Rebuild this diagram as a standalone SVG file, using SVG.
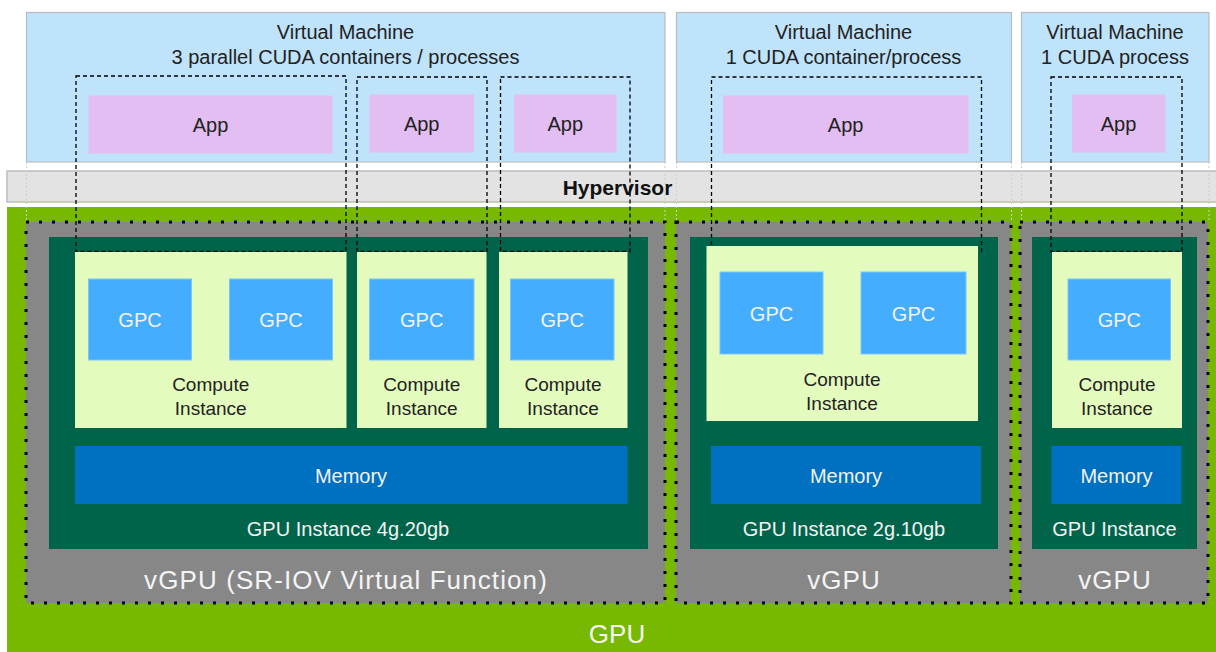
<svg xmlns="http://www.w3.org/2000/svg" width="1216" height="652" viewBox="0 0 1216 652">
<style>
text{font-family:"Liberation Sans",Arial,sans-serif;text-anchor:middle}
.vm{fill:#bfe3fb;stroke:#b9bcbf;stroke-width:1.2}
.app{fill:#e3bef2}
.hyp{fill:#e3e3e3;stroke:#bdbdbd;stroke-width:1.5}
.gpu{fill:#76b900}
.vgpu{fill:#878787;stroke:#000;stroke-width:3;stroke-dasharray:3 10}
.gi{fill:#00644b}
.ci{fill:#e4fbbe}
.gpc{fill:#45adfe;stroke:#7cc4ff;stroke-width:1}
.mem{fill:#0070c0}
.dash{fill:none;stroke:#000;stroke-width:1.3;stroke-dasharray:4 3}
.guide{stroke:#cfcfcf;stroke-width:1;stroke-dasharray:2 2}
.t20{font-size:20px;fill:#222}
.tw{font-size:20px;fill:#f2f2f2}
.tci{font-size:19px;fill:#222}
.tv{font-size:26px;fill:#f4f4f4;letter-spacing:1.1px}
</style>
<rect width="1216" height="652" fill="#fff"/>
<g id="gpu">
<rect class="gpu" x="7" y="207" width="1209" height="445"/>
<text x="617" y="643" style="font-size:26px;fill:#f4f4f4">GPU</text>
</g>
<g id="hypervisor">
<rect class="hyp" x="7" y="171" width="1210" height="31"/>
<text x="617.5" y="195" style="font-size:21px;font-weight:bold;fill:#111">Hypervisor</text>
</g>
<g id="guides">
<line class="guide" x1="26.5" y1="162" x2="26.5" y2="222"/>
<line class="guide" x1="665" y1="162" x2="665" y2="222"/>
<line class="guide" x1="676.5" y1="162" x2="676.5" y2="222"/>
<line class="guide" x1="1011.5" y1="162" x2="1011.5" y2="222"/>
<line class="guide" x1="1021.5" y1="162" x2="1021.5" y2="222"/>
<line class="guide" x1="1209" y1="162" x2="1209" y2="222"/>
</g>
<g id="vm1">
<rect class="vm" x="26.5" y="12.5" width="638.5" height="149.5"/>
<text class="t20" x="345.5" y="39">Virtual Machine</text>
<text class="t20" x="345.5" y="64">3 parallel CUDA containers / processes</text>
<g id="app1"><rect class="app" x="88.5" y="95.5" width="244" height="58"/><text class="t20" x="210.5" y="132">App</text></g>
<g id="app2"><rect class="app" x="369.5" y="94.5" width="104.5" height="58"/><text class="t20" x="421.7" y="131">App</text></g>
<g id="app3"><rect class="app" x="514" y="94.5" width="102.5" height="58"/><text class="t20" x="565.3" y="131">App</text></g>
</g>
<g id="vm2">
<rect class="vm" x="676.5" y="12.5" width="335" height="149.5"/>
<text class="t20" x="843.5" y="39">Virtual Machine</text>
<text class="t20" x="843.5" y="64">1 CUDA container/process</text>
<g id="app4"><rect class="app" x="723" y="95.5" width="245.5" height="58"/><text class="t20" x="845.6" y="132">App</text></g>
</g>
<g id="vm3">
<rect class="vm" x="1021.5" y="12.5" width="187.5" height="149.5"/>
<text class="t20" x="1115" y="39">Virtual Machine</text>
<text class="t20" x="1115" y="64">1 CUDA process</text>
<g id="app5"><rect class="app" x="1072" y="94.5" width="93.5" height="58"/><text class="t20" x="1118.5" y="131">App</text></g>
</g>
<g id="vgpu1">
<rect class="vgpu" x="26" y="222" width="639" height="381"/>
<text class="tv" x="346" y="589">vGPU (SR-IOV Virtual Function)</text>
</g>
<g id="vgpu2">
<rect class="vgpu" x="676" y="222" width="335" height="381"/>
<text class="tv" x="844" y="589">vGPU</text>
</g>
<g id="vgpu3">
<rect class="vgpu" x="1020" y="222" width="188" height="381"/>
<text class="tv" x="1115" y="589">vGPU</text>
</g>
<g id="gi1">
<rect class="gi" x="49" y="237" width="599" height="312"/>
<text class="tw" x="348" y="536">GPU Instance 4g.20gb</text>
</g>
<g id="gi2">
<rect class="gi" x="690" y="237" width="308" height="312"/>
<text class="tw" x="844" y="536">GPU Instance 2g.10gb</text>
</g>
<g id="gi3">
<rect class="gi" x="1032" y="237" width="165" height="312"/>
<text class="tw" x="1114.5" y="536">GPU Instance</text>
</g>
<g id="connectors">
<rect class="dash" x="76" y="76" width="270" height="175.5"/>
<rect class="dash" x="357" y="77" width="130" height="174.5"/>
<rect class="dash" x="500.5" y="77" width="129.5" height="174.5"/>
<rect class="dash" x="711.5" y="77" width="270" height="174.5"/>
<rect class="dash" x="1051" y="77" width="131" height="174.5"/>
</g>
<g id="ci1">
<rect class="ci" x="75" y="252" width="271.5" height="176"/>
<g id="gpc1"><rect class="gpc" x="88.5" y="279" width="103" height="81"/><text class="tw" x="140" y="327">GPC</text></g>
<g id="gpc2"><rect class="gpc" x="229.5" y="279" width="103" height="81"/><text class="tw" x="281" y="327">GPC</text></g>
<text class="tci" x="210.7" y="391">Compute</text>
<text class="tci" x="210.7" y="415">Instance</text>
</g>
<g id="ci2">
<rect class="ci" x="357" y="252" width="129.5" height="176"/>
<g id="gpc3"><rect class="gpc" x="369.5" y="279" width="104.5" height="81"/><text class="tw" x="421.7" y="327">GPC</text></g>
<text class="tci" x="421.7" y="391">Compute</text>
<text class="tci" x="421.7" y="415">Instance</text>
</g>
<g id="ci3">
<rect class="ci" x="499" y="252" width="128.5" height="176"/>
<g id="gpc4"><rect class="gpc" x="510.5" y="279" width="103.5" height="81"/><text class="tw" x="562.2" y="327">GPC</text></g>
<text class="tci" x="563" y="391">Compute</text>
<text class="tci" x="563" y="415">Instance</text>
</g>
<g id="ci4">
<rect class="ci" x="706.5" y="246" width="271.5" height="175"/>
<g id="gpc5"><rect class="gpc" x="720" y="272" width="103" height="82"/><text class="tw" x="771.5" y="320.5">GPC</text></g>
<g id="gpc6"><rect class="gpc" x="861" y="272" width="105" height="82"/><text class="tw" x="913.5" y="320.5">GPC</text></g>
<text class="tci" x="842" y="386">Compute</text>
<text class="tci" x="842" y="410">Instance</text>
</g>
<g id="ci5">
<rect class="ci" x="1052" y="252" width="130" height="176"/>
<g id="gpc7"><rect class="gpc" x="1068" y="279" width="102.5" height="81"/><text class="tw" x="1119.3" y="327">GPC</text></g>
<text class="tci" x="1117" y="391">Compute</text>
<text class="tci" x="1117" y="415">Instance</text>
</g>
<g id="mem1"><rect class="mem" x="75" y="446" width="552.5" height="58"/><text class="tw" x="351" y="483">Memory</text></g>
<g id="mem2"><rect class="mem" x="711" y="446" width="270" height="58"/><text class="tw" x="846" y="483">Memory</text></g>
<g id="mem3"><rect class="mem" x="1051.5" y="446" width="130" height="58"/><text class="tw" x="1116.5" y="483">Memory</text></g>
</svg>
